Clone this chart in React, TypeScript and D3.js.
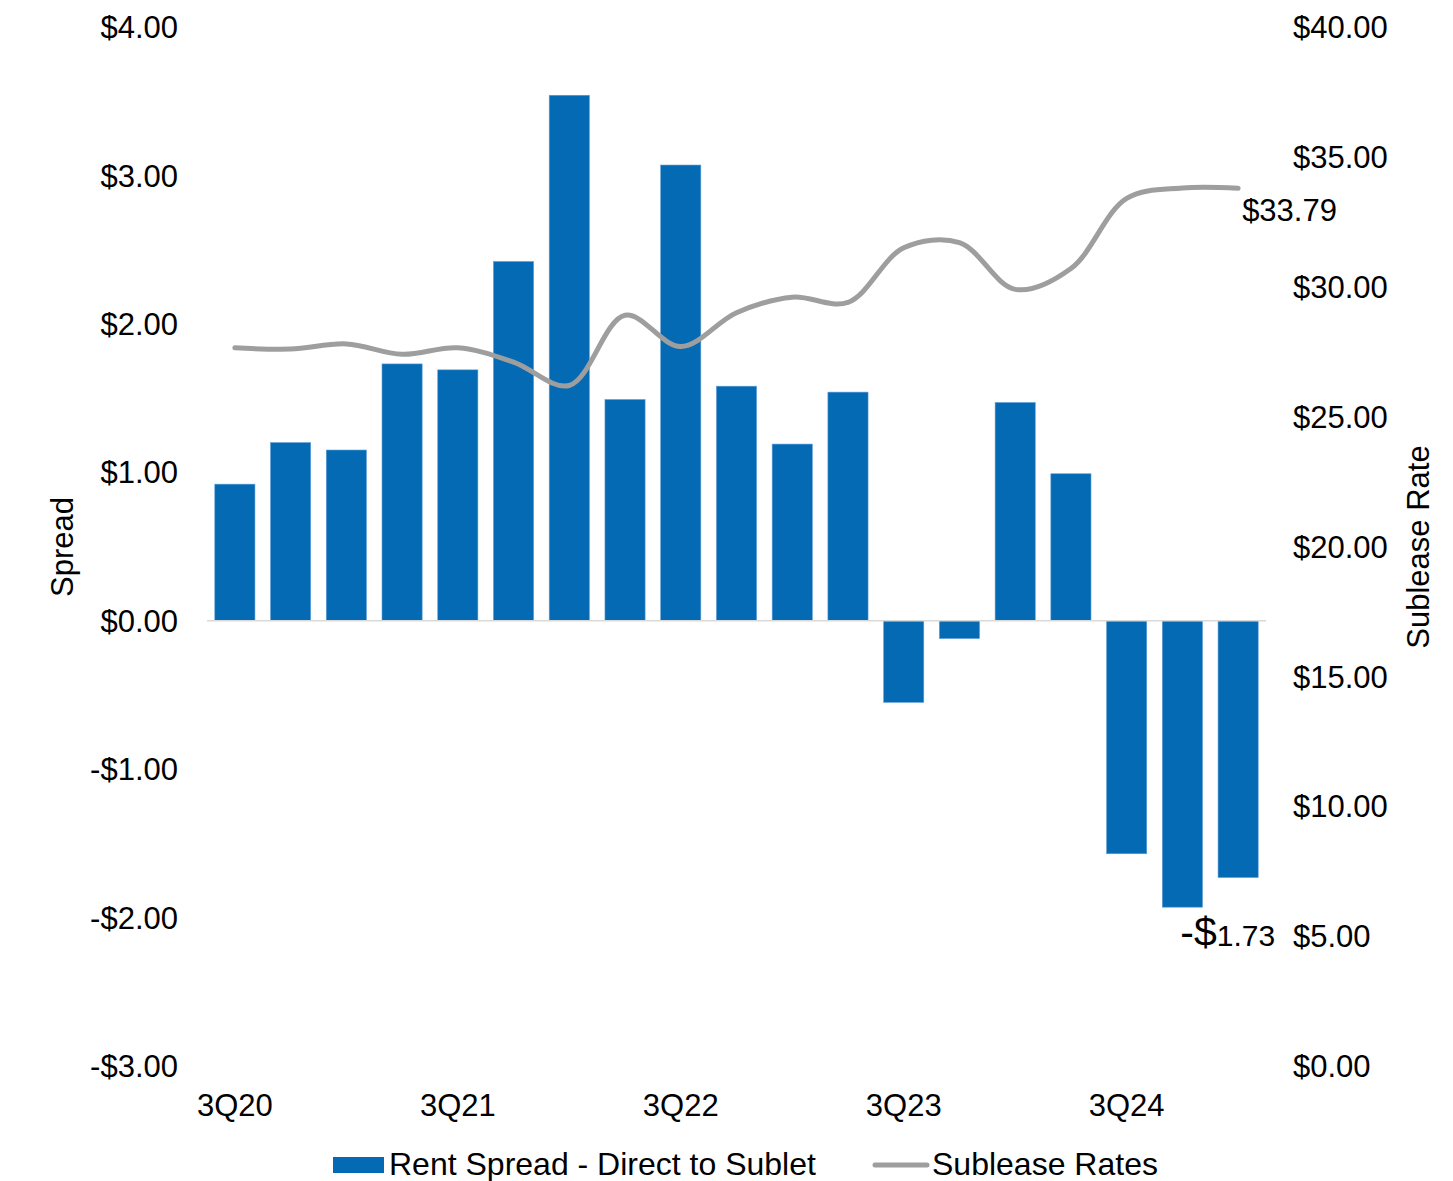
import * as d3 from 'd3';

const quarters = [
  '3Q20', '4Q20', '1Q21', '2Q21', '3Q21', '4Q21', '1Q22', '2Q22', '3Q22', '4Q22',
  '1Q23', '2Q23', '3Q23', '4Q23', '1Q24', '2Q24', '3Q24', '4Q24', '1Q25',
];
const spread = [
  0.92, 1.2, 1.15, 1.73, 1.69, 2.42, 3.54, 1.49, 3.07, 1.58,
  1.19, 1.54, -0.55, -0.12, 1.47, 0.99, -1.57, -1.93, -1.73,
];
const subleaseRates = [
  27.65, 27.6, 27.8, 27.4, 27.65, 27.1, 26.2, 28.9, 27.7, 29.0,
  29.6, 29.4, 31.5, 31.7, 29.9, 30.7, 33.4, 33.8, 33.79,
];
const shownLabels = ['3Q20', '3Q21', '3Q22', '3Q23', '3Q24'];
const leftTicks = [4, 3, 2, 1, 0, -1, -2, -3];
const rightTicks = [40, 35, 30, 25, 20, 15, 10, 5, 0];

const width = 1453;
const height = 1181;
const font = 'Arial, "Liberation Sans", sans-serif';

const App = () => {
  const x = d3.scaleBand().domain(quarters).range([207, 1266]).paddingInner(0.28).paddingOuter(0.14);
  const yL = d3.scaleLinear().domain([-3, 4]).range([1066, 27]);
  const yR = d3.scaleLinear().domain([0, 40]).range([1066, 27]);
  const cx = (q: string) => (x(q) ?? 0) + x.bandwidth() / 2;

  const line = d3
    .line<number>()
    .x((_, i) => cx(quarters[i]))
    .y((d) => yR(d))
    .curve(d3.curveCatmullRom.alpha(0.5));

  const fmt = (v: number) => (v < 0 ? `-$${Math.abs(v).toFixed(2)}` : `$${v.toFixed(2)}`);
  const lastQ = quarters[quarters.length - 1];
  const lastSpread = spread[spread.length - 1];
  const lastRate = subleaseRates[subleaseRates.length - 1];

  return (
    <svg
      width={width}
      height={height}
      style={{ display: 'block', position: 'absolute', left: 0, top: 0, fontFamily: font }}
    >
      <rect width={width} height={height} fill="#fff" />

      {/* bars */}
      <g>
        {spread.map((v, i) => (
          <rect
            key={quarters[i]}
            x={x(quarters[i])}
            y={yL(Math.max(0, v))}
            width={x.bandwidth()}
            height={Math.abs(yL(v) - yL(0))}
            fill="#046AB4"
            stroke="#5b9bd5"
            strokeWidth={0.6}
          />
        ))}
      </g>

      {/* zero line */}
      <line x1={207} x2={1266} y1={yL(0)} y2={yL(0)} stroke="#d9d9d9" strokeWidth={1.5} />

      {/* sublease line */}
      <path d={line(subleaseRates) ?? ''} fill="none" stroke="#9e9e9e" strokeWidth={5} strokeLinecap="round" />

      {/* left axis */}
      <g fontSize={31} fill="#000" textAnchor="end">
        {leftTicks.map((t) => (
          <text key={t} x={178} y={yL(t)} dy="0.36em">
            {fmt(t)}
          </text>
        ))}
      </g>

      {/* right axis */}
      <g fontSize={31} fill="#000" textAnchor="start">
        {rightTicks.map((t) => (
          <text key={t} x={1293} y={yR(t)} dy="0.36em">
            {fmt(t)}
          </text>
        ))}
      </g>

      {/* x labels */}
      <g fontSize={31} fill="#000" textAnchor="middle">
        {shownLabels.map((q) => (
          <text key={q} x={cx(q)} y={1105} dy="0.36em">
            {q}
          </text>
        ))}
      </g>

      {/* axis titles */}
      <text transform={`translate(73,547) rotate(-90)`} textAnchor="middle" fontSize={31}>
        Spread
      </text>
      <text transform={`translate(1429,547) rotate(-90)`} textAnchor="middle" fontSize={31}>
        Sublease Rate
      </text>

      {/* data labels */}
      <text x={cx(lastQ) + 4} y={yR(lastRate) + 22} dy="0.36em" fontSize={31} textAnchor="start">
        {fmt(lastRate)}
      </text>
      <text x={cx(lastQ) + 37} y={yL(lastSpread) + 63} dy="0.36em" textAnchor="end">
        <tspan fontSize={41}>-$</tspan>
        <tspan fontSize={30}>{Math.abs(lastSpread).toFixed(2)}</tspan>
      </text>

      {/* legend */}
      <g fontSize={32}>
        <rect x={333} y={1157} width={51} height={16} fill="#046AB4" />
        <text x={389} y={1164} dy="0.35em">Rent Spread - Direct to Sublet</text>
        <line x1={875} x2={927} y1={1165} y2={1165} stroke="#9e9e9e" strokeWidth={5} strokeLinecap="round" />
        <text x={932} y={1164} dy="0.35em">Sublease Rates</text>
      </g>
    </svg>
  );
};

export default App;
